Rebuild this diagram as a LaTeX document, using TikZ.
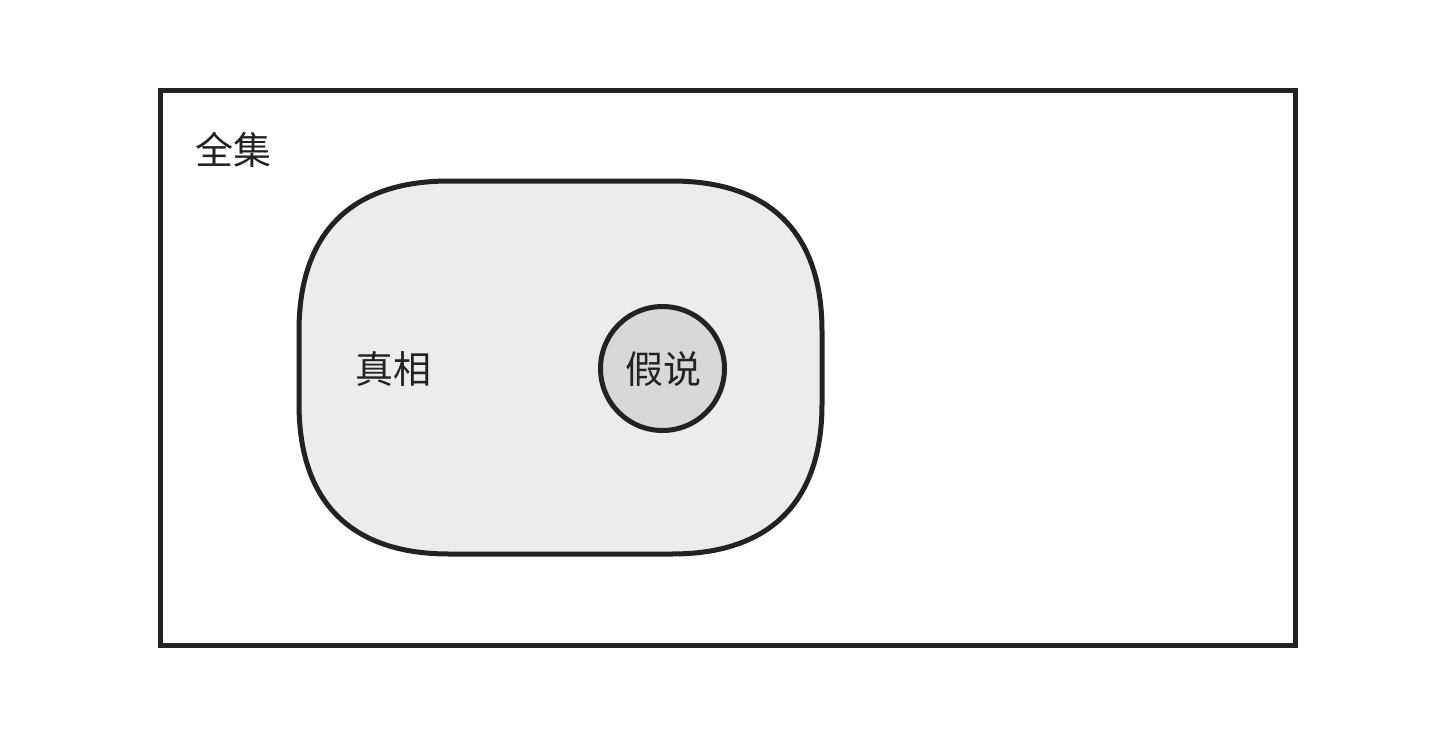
\documentclass[tikz,border=0pt]{standalone}
\usepackage{fontspec}
\newfontfamily\cjk{Noto Sans CJK SC}
\definecolor{ink}{HTML}{222222}
\definecolor{truthfill}{HTML}{ECECEC}
\definecolor{hypofill}{HTML}{D8D8D8}
\tikzset{
  border/.style={draw=ink, line width=5pt},
  lbl/.style={font=\cjk\fontsize{38}{40}\selectfont, text=ink, inner sep=0pt},
}
\begin{document}
\begin{tikzpicture}[x=1pt,y=-1pt]
\useasboundingbox (0,0) rectangle (1456,752);
\fill[white] (0,0) rectangle (1456,752);
\draw[border] (160.5,90.5) rectangle (1295.5,645);
\coordinate (universe) at (728,368);
\node[lbl] (universelabel) at (233,150) {全集};
\draw[border, fill=truthfill]
  (449,181) -- (672,181)
  .. controls (770,181) and (822,233) .. (822,331)
  -- (822,404)
  .. controls (822,502) and (770,554) .. (672,554)
  -- (449,554)
  .. controls (351,554) and (299,502) .. (299,404)
  -- (299,331)
  .. controls (299,233) and (351,181) .. (449,181) -- cycle;
\coordinate (truth) at (560.5,367.5);
\node[lbl] (truthlabel) at (393,369) {真相};
\node[border, circle, fill=hypofill, minimum size=124pt, inner sep=0pt] (hypo) at (662.5,368.5) {};
\node[lbl] (hypolabel) at (663,369) {假说};
\end{tikzpicture}
\end{document}
